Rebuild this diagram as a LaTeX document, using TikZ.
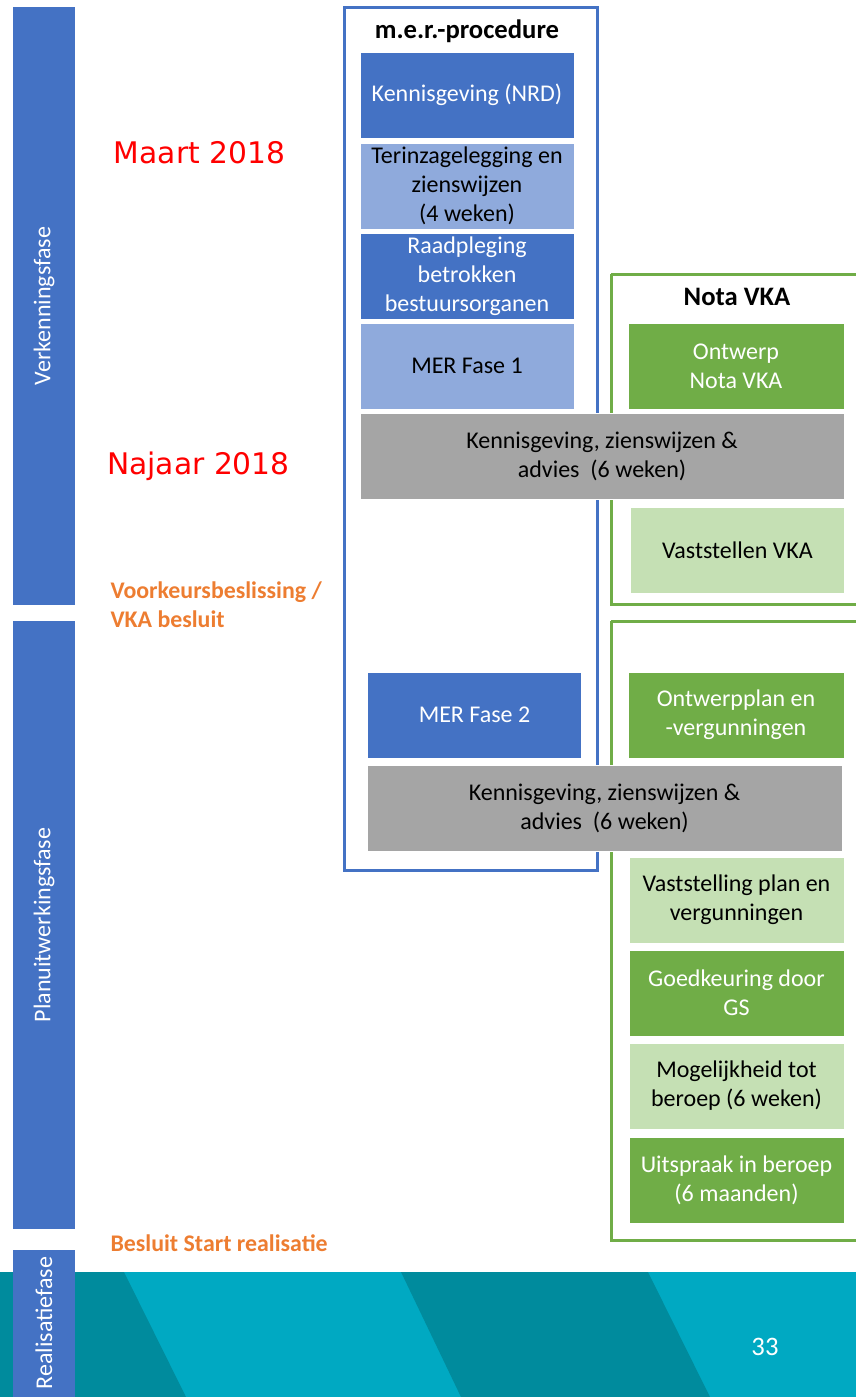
\documentclass[tikz,border=0pt]{standalone}
\usepackage{fontspec}
\setmainfont{Carlito}
\newfontfamily\datefont{DejaVu Sans}

\definecolor{merblue}{RGB}{68,114,196}
\definecolor{merlight}{RGB}{143,170,220}
\definecolor{vkagreen}{RGB}{112,173,71}
\definecolor{vkalight}{RGB}{197,224,180}
\definecolor{advgrey}{RGB}{165,165,165}
\definecolor{besorange}{RGB}{237,125,49}
\definecolor{tealband}{RGB}{0,169,194}
\definecolor{tealdark}{RGB}{0,139,157}

\tikzset{every picture/.style={line width=0.75pt}}
\tikzset{
  fasebar/.style={fill=merblue, draw=none},
  fasetext/.style={rotate=90, text=white, inner sep=0.75pt, font=\fontsize{18}{21.75}\selectfont},
  stapbox/.style={draw=white, line width=0.5pt, inner sep=0pt, minimum width=160.5pt, minimum height=64.5pt, align=center, font=\fontsize{18}{21.75}\selectfont},
  advbox/.style={stapbox, fill=advgrey, text=black},
  kader/.style={line width=2.25pt},
  kadertitel/.style={inner sep=0.75pt, font=\fontsize{20}{24}\selectfont\bfseries},
  datum/.style={anchor=base, inner sep=0pt, text=red, font=\datefont\fontsize{22.3}{26}\selectfont},
  besluit/.style={anchor=west, inner sep=0pt, align=left, text=besorange, font=\fontsize{17.9}{21.75}\selectfont\bfseries}
}

\begin{document}
\begin{tikzpicture}[x=0.75pt,y=0.75pt,yscale=-1,xscale=1]
\useasboundingbox (0,0) rectangle (856,1397);

% Band
\fill[tealband] (0,1272) rectangle (856,1397);
\fill[tealdark] (0,1272) -- (124,1272) -- (186,1397) -- (0,1397) -- cycle;
\fill[tealdark] (401,1272) -- (648,1272) -- (710,1397) -- (461,1397) -- cycle;
\node (paginanr) at (765,1347) [inner sep=0.75pt, text=white, font=\fontsize{20}{24}\selectfont] {33};

% Fasen
\fill[fasebar] (13,7) rectangle (75,605);
\node (verkenning) at (44,306) [fasetext] {Verkenningsfase};
\fill[fasebar] (13,621) rectangle (75,1229);
\node (planuitwerking) at (44,925) [fasetext] {Planuitwerkingsfase};
\fill[fasebar] (13,1250) rectangle (75,1397);
\node (realisatie) at (44,1323) [fasetext] {Realisatiefase};

% Data en besluiten
\node (maart) at (199.5,163) [datum] {Maart 2018};
\node (najaar) at (198.5,474) [datum] {Najaar 2018};
\node (vkabesluit) at (110,605) [besluit] {Voorkeursbeslissing /\\VKA besluit};
\node (startreal) at (110,1243) [besluit] {Besluit Start realisatie};

% Kaders
\draw[kader, merblue] (344,7) rectangle (597,870);
\node (mertitel) at (467,31) [kadertitel] {m.e.r.-procedure};
\draw[kader, vkagreen] (611,274) -- (860,274) (611,274) -- (611,604) -- (860,604);
\node (vkatitel) at (737,297) [kadertitel] {Nota VKA};
\draw[kader, vkagreen] (611,621) -- (860,621) (611,621) -- (611,1240) -- (860,1240);

% m.e.r.-procedure
\node (nrd) at (467,95) [stapbox, fill=merblue, text=white] {Kennisgeving (NRD)};
\node (inzage) at (467,186) [stapbox, fill=merlight] {Terinzagelegging en\\zienswijzen\\(4 weken)};
\node (raadpleging) at (467,276) [stapbox, fill=merblue, text=white] {Raadpleging\\betrokken\\bestuursorganen};
\node (merfase1) at (467,366) [stapbox, fill=merlight] {MER Fase 1};
\node (merfase2) at (474.5,715) [stapbox, fill=merblue, text=white] {MER Fase 2};

% Nota VKA
\node (ontwerpvka) at (736,366) [stapbox, fill=vkagreen, text=white, minimum width=162pt] {Ontwerp\\Nota VKA};
\node (vaststellenvka) at (737.5,550) [stapbox, fill=vkalight] {Vaststellen VKA};

% Plan en vergunningen
\node (ontwerpplan) at (736,715) [stapbox, fill=vkagreen, text=white, minimum width=162pt] {Ontwerpplan en\\-vergunningen};
\node (vaststelling) at (736.5,900) [stapbox, fill=vkalight, minimum width=161.25pt] {Vaststelling plan en\\vergunningen};
\node (goedkeuring) at (736.5,993) [stapbox, fill=vkagreen, text=white, minimum width=161.25pt] {Goedkeuring door\\GS};
\node (mogelijkheid) at (736.5,1086) [stapbox, fill=vkalight, minimum width=161.25pt] {Mogelijkheid tot\\beroep (6 weken)};
\node (uitspraak) at (736.5,1180) [stapbox, fill=vkagreen, text=white, minimum width=161.25pt] {Uitspraak in beroep\\(6 maanden)};

% Kennisgeving, zienswijzen en advies
\node (advies1) at (602,456) [advbox, minimum width=363pt] {Kennisgeving, zienswijzen \&\\advies\ \ (6 weken)};
\node (advies2) at (604.5,808) [advbox, minimum width=356.25pt] {Kennisgeving, zienswijzen \&\\advies\ \ (6 weken)};

\end{tikzpicture}
\end{document}
